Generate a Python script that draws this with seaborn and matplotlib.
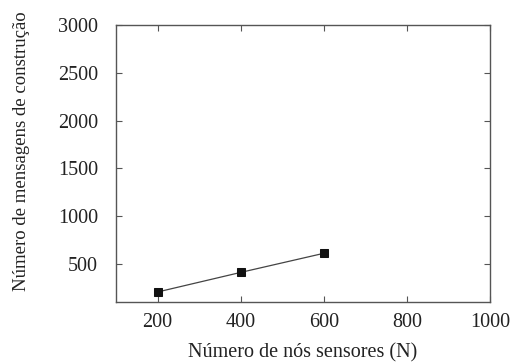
import matplotlib
matplotlib.use("Agg")
import matplotlib.pyplot as plt
import seaborn as sns
import pandas as pd

nodes = [200, 400, 600]
messages = [205, 410, 610]
xticks = [200, 400, 600, 800, 1000]
yticks = [500, 1000, 1500, 2000, 2500, 3000]

sns.set_style("ticks")
plt.rcParams['font.family'] = ['Liberation Serif', 'DejaVu Serif']

df = pd.DataFrame({"N": nodes, "M": messages})
fig = plt.figure(figsize=(5.12, 3.63), dpi=100)
ax = fig.add_axes([0.2266, 0.168, 0.7305, 0.763])
sns.lineplot(data=df, x="N", y="M", ax=ax, color="#444444", linewidth=0.9,
             marker="s", markersize=6, markerfacecolor="#111111",
             markeredgecolor="#111111")
ax.set_xlim(100, 1000)
ax.set_ylim(100, 3000)
ax.set_xticks(xticks)
ax.set_yticks(yticks)
ax.tick_params(direction="in", top=True, right=True, length=4, width=0.8,
               colors="#555555", labelcolor="#222222", labelsize=14.5)
ax.tick_params(axis="x", pad=8)
ax.tick_params(axis="y", pad=13)
for s in ax.spines.values():
    s.set_visible(True)
    s.set_color("#555555")
    s.set_linewidth(1.0)
ax.set_xlabel("Número de nós sensores (N)", fontsize=14.5, color="#222222", labelpad=8)
ax.set_ylabel("Número de mensagens de construção", fontsize=13.5, color="#222222")
ax.yaxis.set_label_coords(-0.23, 0.545)
fig.savefig("out.png", dpi=100)
